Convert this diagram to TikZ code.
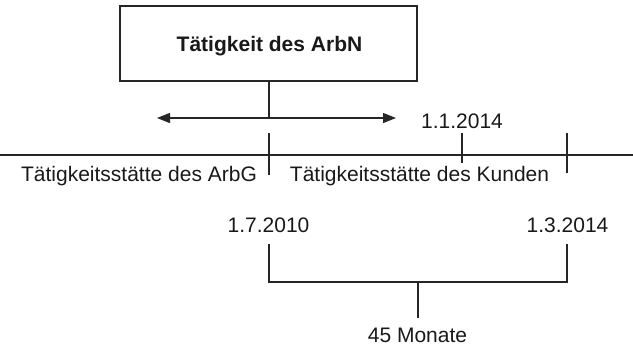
\documentclass[tikz,border=0pt]{standalone}
\usepackage{fontspec}
\setmainfont{Liberation Sans}
\usetikzlibrary{arrows.meta}
\begin{document}
\begin{tikzpicture}[x=1pt,y=-1pt,
  ln/.style={draw=black!85,line width=1.1pt},
  lbl/.style={inner sep=0pt,anchor=base,font=\fontsize{21}{24}\selectfont,text=black!90},
  titlebox/.style={ln,minimum width=297pt,minimum height=75pt,inner sep=0pt},
  tip/.style={-{Triangle[length=13pt,width=10pt]}}]
\useasboundingbox (0,0) rectangle (633,349);

% heading box with the employee's activity
\node[titlebox] (box) at (268.5,43.5) {};
\node[lbl,font=\fontsize{21}{24}\selectfont\bfseries] (title) at (269.5,51) {Tätigkeit des ArbN};

% stem and double arrow below the box
\coordinate (fork) at (269,118);
\coordinate (aleft) at (157,118);
\coordinate (aright) at (396,118);
\draw[ln] (box.south -| fork) -- (fork);
\draw[ln,tip] (fork) -- (aleft);
\draw[ln,tip] (fork) -- (aright);

% time line with its ticks
\coordinate (tl0) at (0,155);
\coordinate (tl1) at (633,155);
\draw[ln] (tl0) -- (tl1);
\coordinate (t1a) at (269,133); \coordinate (t1b) at (269,175);
\coordinate (t2a) at (462,133); \coordinate (t2b) at (462,163);
\coordinate (t3a) at (567,133); \coordinate (t3b) at (567,173);
\draw[ln] (t1a) -- (t1b);
\draw[ln] (t2a) -- (t2b);
\draw[ln] (t3a) -- (t3b);

\node[lbl] (d1) at (462,128) {1.1.2014};
\node[lbl] (arbg) at (139,181.5) {Tätigkeitsstätte des ArbG};
\node[lbl] (kunde) at (419.5,181.5) {Tätigkeitsstätte des Kunden};

% period bracket
\node[lbl] (start) at (268.5,232) {1.7.2010};
\node[lbl] (end) at (567.5,232) {1.3.2014};
\coordinate (bl) at (269,244);
\coordinate (br) at (567,244);
\coordinate (bml) at (269,282);
\coordinate (bmr) at (567,282);
\coordinate (bm) at (418,282);
\coordinate (bmd) at (418,318);
\draw[ln] (bl) -- (bml) -- (bmr) -- (br);
\draw[ln] (bm) -- (bmd);
\node[lbl] (dur) at (417.5,342) {45 Monate};
\end{tikzpicture}
\end{document}
